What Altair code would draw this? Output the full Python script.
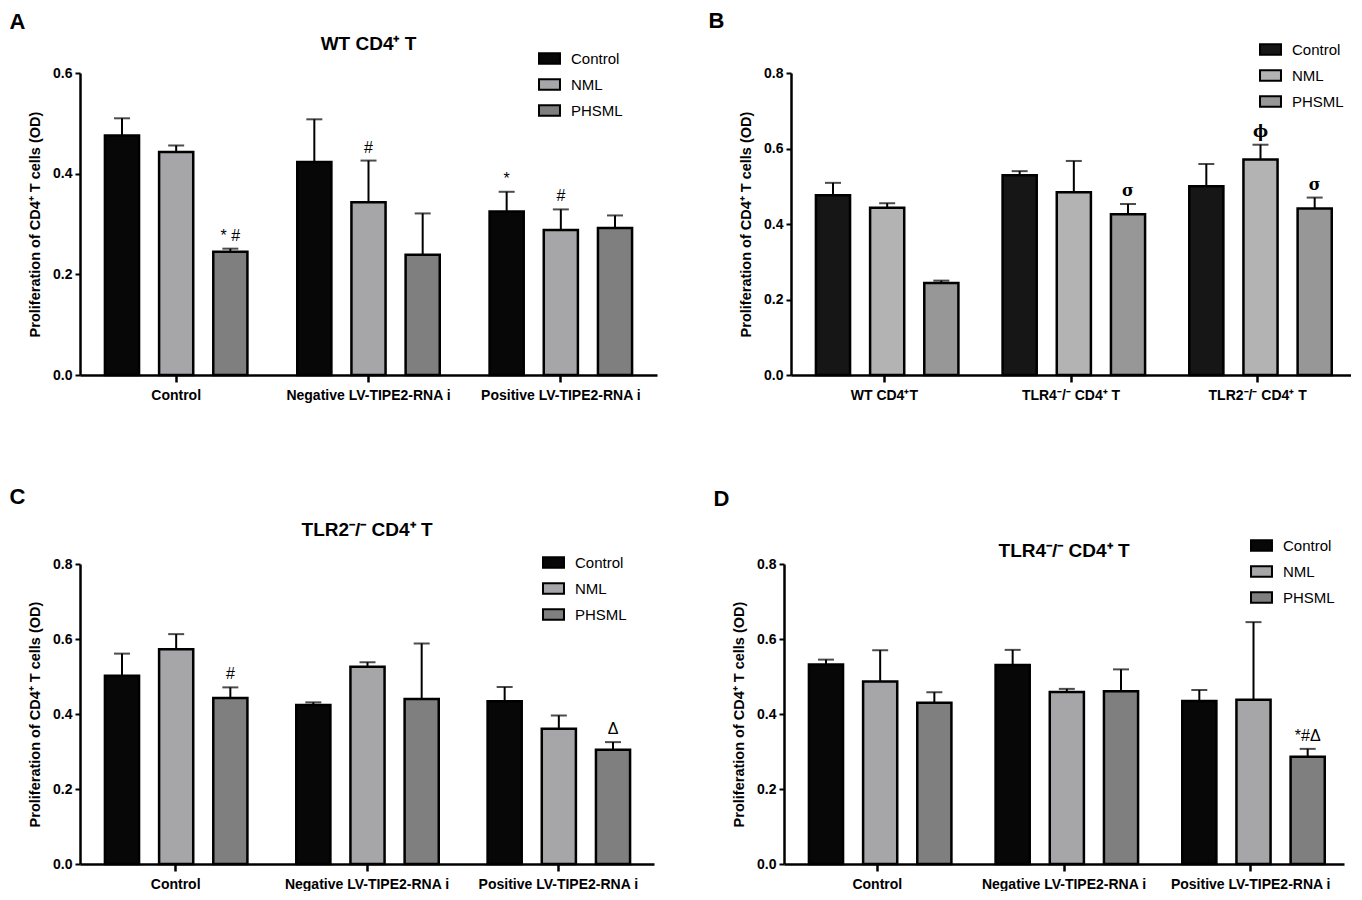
import altair as alt
import pandas as pd

SERIES = ["Control", "NML", "PHSML"]
GROUPS_TX = ["Control", "Negative LV-TIPE2-RNA i", "Positive LV-TIPE2-RNA i"]
GROUPS_B = ["WT CD4⁺T", "TLR4⁻/⁻ CD4⁺ T", "TLR2⁻/⁻ CD4⁺ T"]

# values ordered group by group: [Control, NML, PHSML] per group
A_mean = [0.476, 0.443, 0.245, 0.423, 0.343, 0.239, 0.325, 0.288, 0.292]
A_upper = [0.510, 0.456, 0.251, 0.508, 0.426, 0.321, 0.364, 0.329, 0.317]
A_note = ["", "", "* #", "", "#", "", "*", "#", ""]

B_mean = [0.476, 0.443, 0.244, 0.529, 0.484, 0.426, 0.500, 0.571, 0.441]
B_upper = [0.509, 0.455, 0.250, 0.540, 0.567, 0.453, 0.559, 0.610, 0.470]
B_note = ["", "", "", "", "", "σ", "", "ϕ", "σ"]

C_mean = [0.502, 0.573, 0.443, 0.424, 0.526, 0.440, 0.434, 0.361, 0.305]
C_upper = [0.561, 0.613, 0.471, 0.431, 0.538, 0.588, 0.472, 0.396, 0.325]
C_note = ["", "", "#", "", "", "", "", "", "Δ"]

D_mean = [0.532, 0.487, 0.430, 0.531, 0.459, 0.461, 0.435, 0.438, 0.286]
D_upper = [0.545, 0.570, 0.458, 0.571, 0.467, 0.519, 0.464, 0.645, 0.307]
D_note = ["", "", "", "", "", "", "", "", "*#Δ"]

COLORS_A = ["#070707", "#a6a6a9", "#7f7f7f"]
COLORS_B = ["#161616", "#b3b3b3", "#979797"]

NARROW = "'Liberation Sans Narrow', 'Arial Narrow', 'Liberation Sans', sans-serif"
SANS = "'Liberation Sans', Arial, sans-serif"
SERIF = "'DejaVu Serif', 'Liberation Serif', serif"
YTITLE = "Proliferation of CD4⁺ T cells (OD)"


def panel(letter, title, groups, mean, upper, note, colors, ymax, w, h,
          lx, ly, title_y, t_off, t_dx, note_font=SANS, note_weight="normal"):
    rows = []
    for gi, g in enumerate(groups):
        for si, s in enumerate(SERIES):
            k = gi * 3 + si
            rows.append({"group": g, "series": s, "value": mean[k],
                         "upper": upper[k], "note": note[k]})
    df = pd.DataFrame(rows)

    x = alt.X("group:N", sort=groups,
              scale=alt.Scale(paddingInner=0, paddingOuter=0),
              axis=alt.Axis(title=None, labelAngle=0, labelFont=NARROW,
                            labelFontWeight="bold", labelFontSize=14,
                            labelColor="black", domainColor="black",
                            domainWidth=2.5, tickColor="black", tickWidth=2.5,
                            tickSize=7, labelPadding=6))
    xo = alt.XOffset("series:N", sort=SERIES,
                     scale=alt.Scale(paddingInner=0.37, paddingOuter=0.46))
    ticks = [round(0.2 * i, 1) for i in range(int(round(ymax / 0.2)) + 1)]
    y = alt.Y("value:Q", scale=alt.Scale(domain=[0, ymax], nice=False),
              axis=alt.Axis(title=YTITLE, values=ticks, format=".1f",
                            grid=False, labelFont=NARROW,
                            labelFontWeight="bold", labelFontSize=14,
                            labelColor="black", titleFont=SANS,
                            titleFontSize=14.5, titleFontWeight="bold",
                            titleColor="black", titlePadding=10,
                            domainColor="black", domainWidth=2.5,
                            tickColor="black", tickWidth=2, tickSize=5,
                            labelPadding=3))
    color = alt.Color("series:N", sort=SERIES,
                      scale=alt.Scale(domain=SERIES, range=colors),
                      legend=alt.Legend(title=None, orient="none",
                                        legendX=lx, legendY=ly,
                                        symbolType="M-1,-0.5H1V0.5H-1Z",
                                        symbolSize=440,
                                        symbolStrokeColor="black",
                                        symbolStrokeWidth=2,
                                        labelFont=NARROW, labelFontSize=15,
                                        labelColor="black", labelOffset=10,
                                        rowPadding=5))

    base = alt.Chart(df)
    bars = base.mark_bar(stroke="black", strokeWidth=2.5).encode(
        x=x, xOffset=xo, y=y, color=color)
    err = base.mark_rule(color="black", strokeWidth=2).encode(
        x=x, xOffset=xo, y="value:Q", y2="upper:Q")
    cap = base.mark_tick(color="black", thickness=2, size=16).encode(
        x=x, xOffset=xo, y="upper:Q")
    txt = base.transform_filter("datum.note != ''").mark_text(
        dy=-13, fontSize=16, font=note_font, fontWeight=note_weight,
        color="black").encode(
        x=x, xOffset=xo, y="upper:Q", text="note:N")
    ttl = alt.Chart(pd.DataFrame({"t": [title]})).mark_text(
        font=NARROW, fontSize=19, fontWeight="bold", color="black").encode(
        x=alt.value(w / 2), y=alt.value(title_y), text="t:N")
    layers = [bars, err, cap, txt]
    if title:
        layers.append(ttl)
    return alt.layer(*layers).properties(
        width=w, height=h,
        title=alt.TitleParams(text=letter, anchor="start", frame="bounds",
                              font=SANS, fontSize=22, fontWeight="bold",
                              color="black", offset=t_off, dx=t_dx))


pA = panel("A", "WT CD4⁺ T", GROUPS_TX, A_mean, A_upper, A_note, COLORS_A,
           0.6, 577, 302, 458, -26, -29, 1, -18)
pB = panel("B", "", GROUPS_B, B_mean, B_upper, B_note, COLORS_B,
           0.8, 560, 302, 468, -35, -40, 5, -30,
           note_font=SERIF, note_weight="bold")
pC = panel("C", "TLR2⁻/⁻ CD4⁺ T", GROUPS_TX, C_mean, C_upper, C_note,
           COLORS_A, 0.8, 574, 300, 462, -13, -34, 12, -18)
pD = panel("D", "TLR4⁻/⁻ CD4⁺ T", GROUPS_TX, D_mean, D_upper, D_note,
           COLORS_A, 0.8, 560, 300, 466, -30, -13, 23, -18)

top = alt.hconcat(pA, pB, spacing=51).resolve_scale(color="independent")
bot = alt.hconcat(pC, pD, spacing=59).resolve_scale(color="independent")
chart = alt.vconcat(top, bot, spacing=84).resolve_scale(
    color="independent").properties(
    padding={"left": 1, "top": 2, "right": 0, "bottom": 0},
    background="white"
).configure_view(stroke=None, strokeWidth=0)

chart.save("out.html", embed_options={"renderer": "svg", "actions": False})
